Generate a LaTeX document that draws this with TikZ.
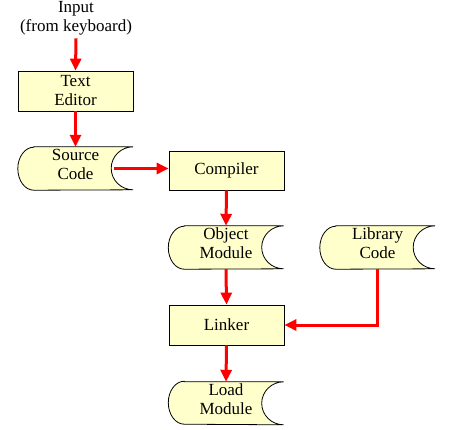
\documentclass[tikz,border=0pt]{standalone}
\usepackage{fontspec}
\setmainfont{Liberation Serif}
\usetikzlibrary{arrows.meta}

\definecolor{boxfill}{RGB}{255,255,204}
\tikzset{
  flowbox/.style={draw, line width=0.8pt, fill=boxfill, minimum width=115pt, align=center},
  datatext/.style={minimum width=115pt, minimum height=43pt, align=center, inner sep=0pt},
  dataline/.style={draw, line width=0.8pt, fill=boxfill},
  flowarrow/.style={draw=red, line width=3pt, -{Triangle[length=12pt,width=11pt]}, red}
}
\newcommand{\datanode}[3]{%
  \path[dataline] ([xshift=16pt]#1.north west) -- (#1.north east)
    arc[start angle=90, end angle=270, x radius=22pt, y radius=21.5pt]
    -- ([xshift=16pt]#1.south west)
    arc[start angle=270, end angle=90, x radius=16pt, y radius=21.5pt] -- cycle;
  \node[datatext, yshift=#2] at (#1) {#3};
}

\begin{document}
\begin{tikzpicture}[x=1pt, y=-1pt, font=\fontsize{17}{19}\selectfont]
\useasboundingbox (0,0) rectangle (454,429);

\node[align=center] (input) at (76,18) {Input\\(from keyboard)};
\node[flowbox, minimum height=40pt] (editor) at (75.5,91) {Text\\Editor};
\node[datatext] (source) at (75.5,168.5) {};
\node[flowbox, minimum height=39pt] (compiler) at (226.5,170.5) {Compiler};
\node[datatext] (object) at (226,247.5) {};
\node[datatext] (library) at (377.5,247.5) {};
\node[flowbox, minimum height=40pt] (linker) at (226.5,325) {Linker};
\node[datatext, minimum height=42pt] (load) at (226,403) {};

\datanode{source}{4pt}{Source\\Code}
\datanode{object}{4pt}{Object\\Module}
\datanode{library}{4pt}{Library\\Code}
\datanode{load}{4pt}{Load\\Module}

\draw[flowarrow] (input.south) -- (editor.north);
\draw[flowarrow] (editor.south) -- (source.north);
\draw[flowarrow] ([xshift=-19pt]source.east) -- (source.east -| compiler.west);
\draw[flowarrow] (compiler.south) -- (object.north);
\draw[flowarrow] (object.south) -- (linker.north);
\draw[flowarrow] (library.south) |- (linker.east);
\draw[flowarrow] (linker.south) -- (load.north);
\end{tikzpicture}
\end{document}
